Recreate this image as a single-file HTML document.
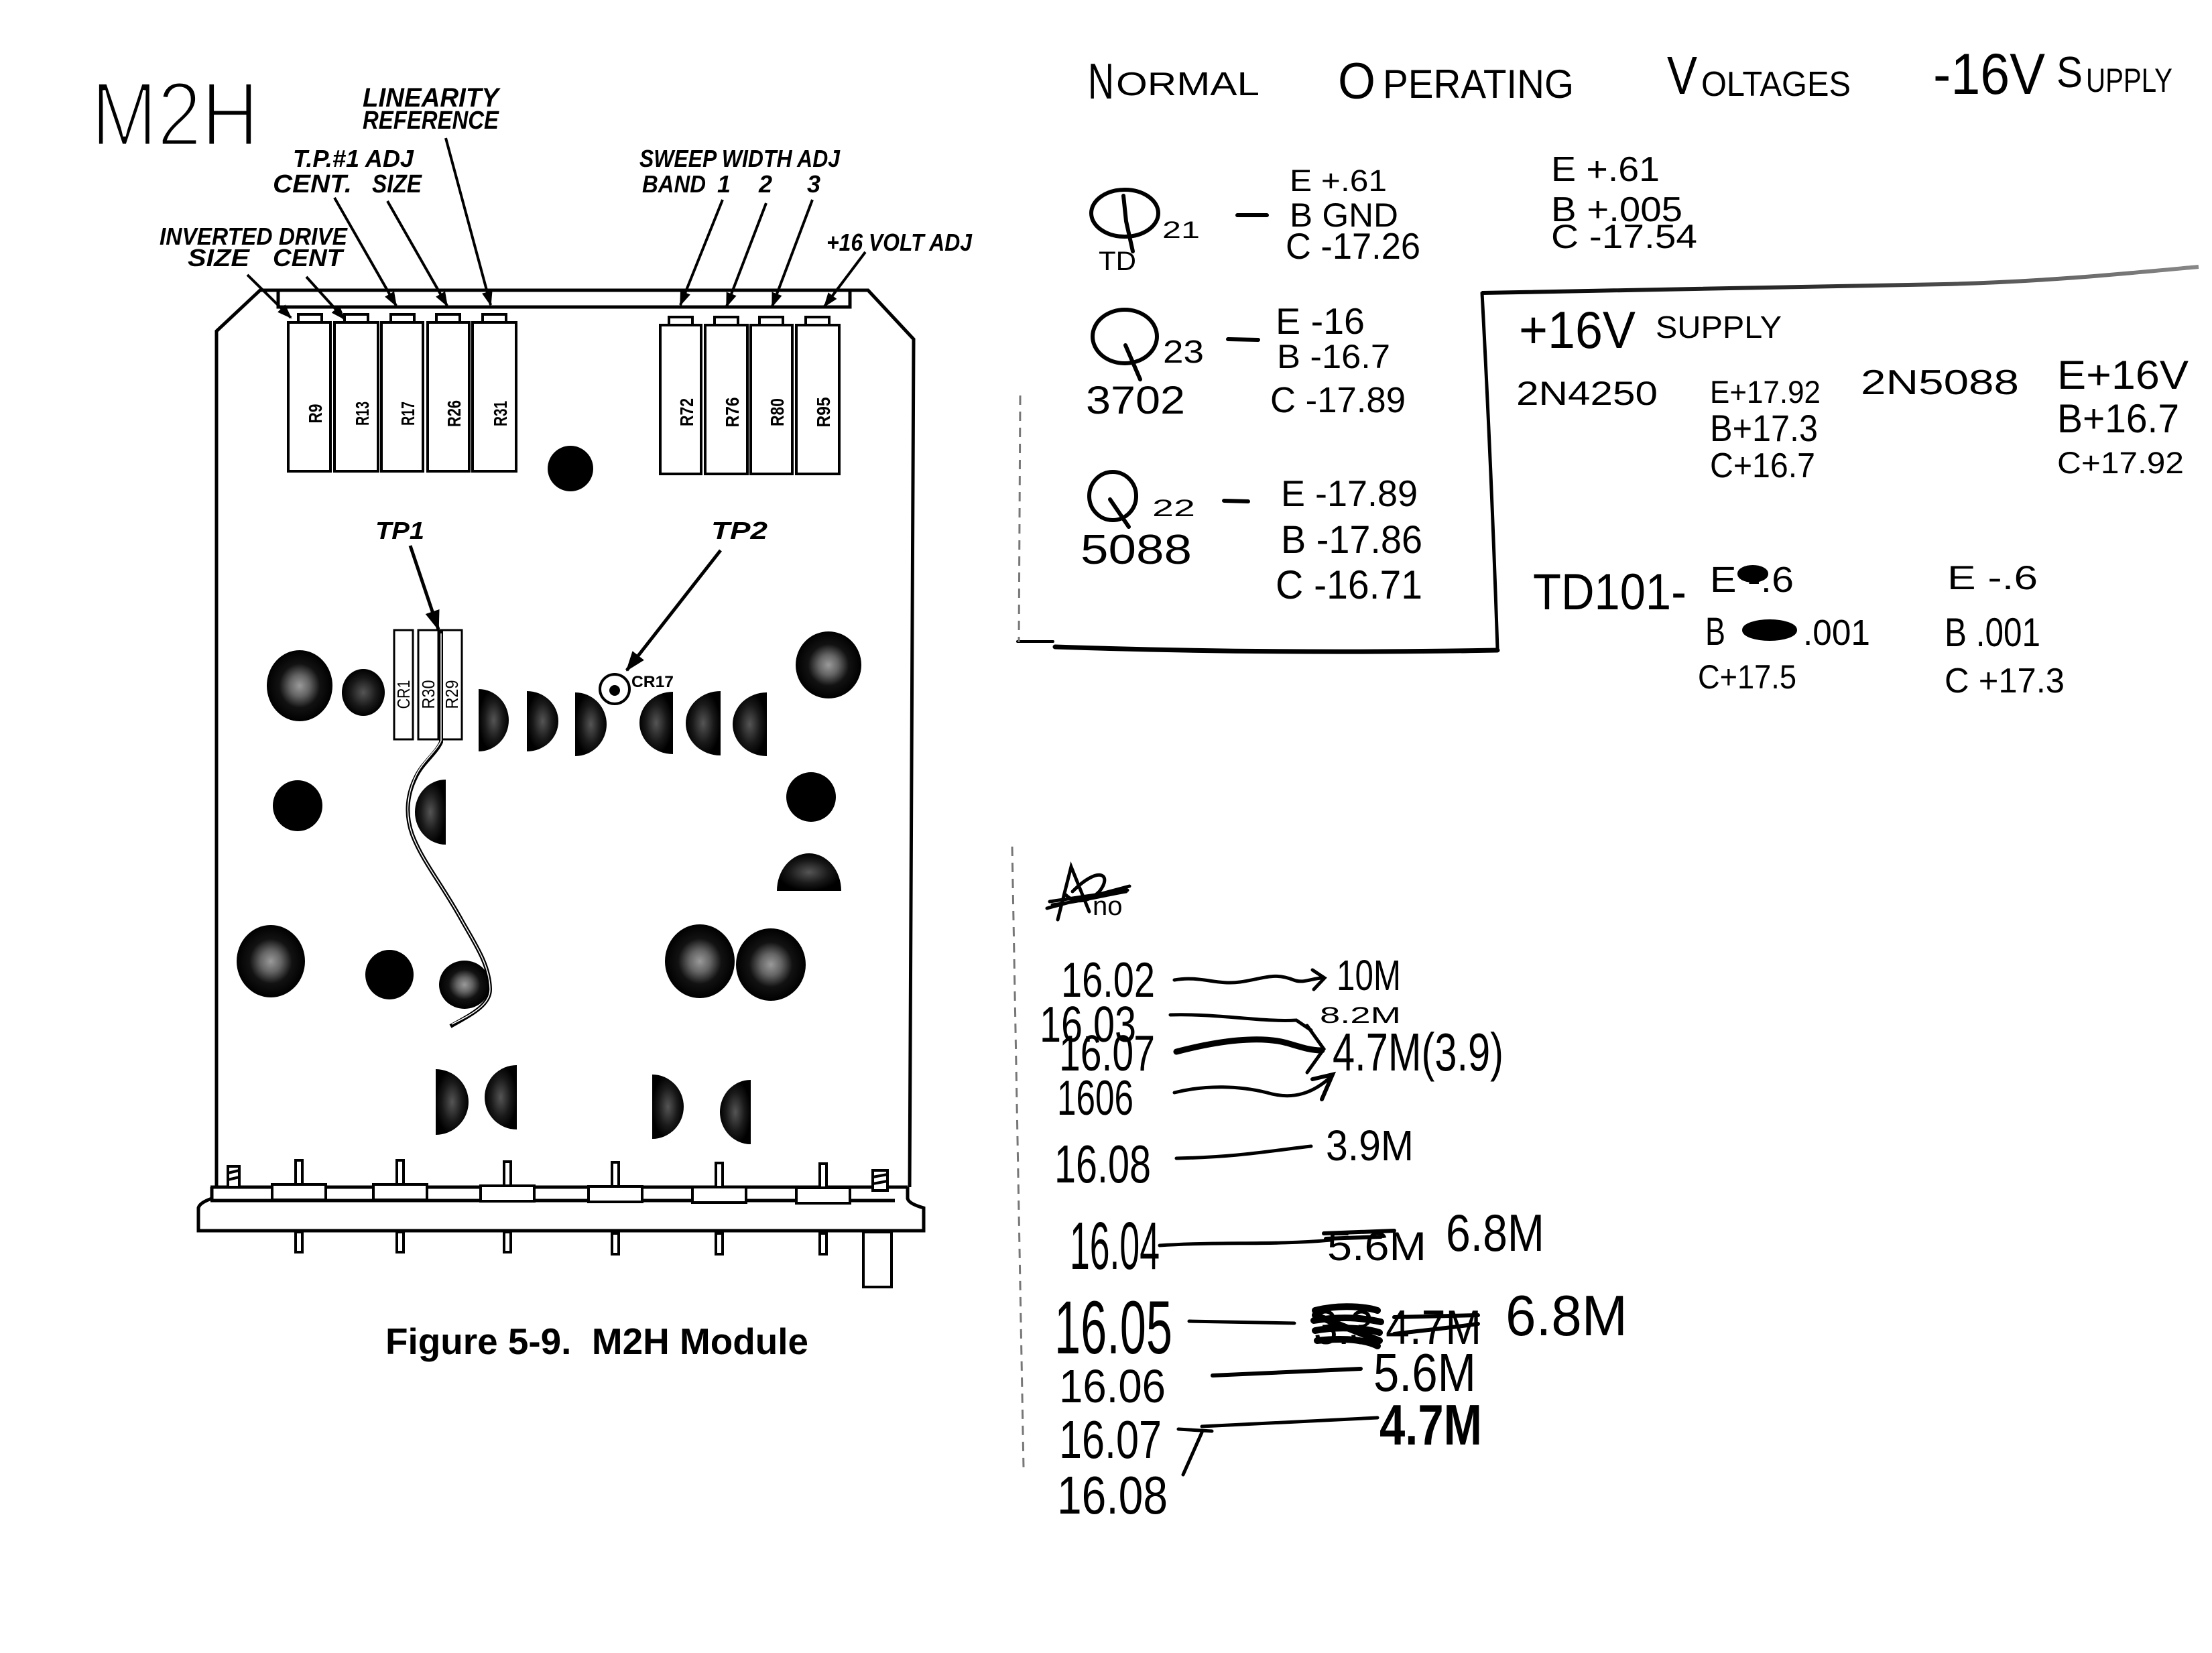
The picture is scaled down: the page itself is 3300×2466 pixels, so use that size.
<!DOCTYPE html>
<html><head><meta charset="utf-8"><style>
html,body{margin:0;padding:0;background:#fff;}
svg{display:block;}
.h{font-family:"Liberation Sans",sans-serif;fill:#000;}
.l{font-family:"Liberation Sans",sans-serif;font-weight:bold;font-style:italic;fill:#000;}
.b{font-family:"Liberation Sans",sans-serif;font-weight:bold;fill:#000;}
</style></head><body>
<svg width="3300" height="2466" viewBox="0 0 3300 2466" xmlns="http://www.w3.org/2000/svg">
<defs>
<radialGradient id="sp" cx="50%" cy="50%" r="50%">
<stop offset="0" stop-color="#9a9a9a"/><stop offset="0.3" stop-color="#656565"/><stop offset="0.62" stop-color="#121212"/><stop offset="1" stop-color="#000"/>
</radialGradient>
<radialGradient id="sp2" cx="50%" cy="50%" r="50%">
<stop offset="0" stop-color="#555"/><stop offset="0.6" stop-color="#1a1a1a"/><stop offset="1" stop-color="#000"/>
</radialGradient>
<marker id="ah" markerUnits="userSpaceOnUse" markerWidth="22" markerHeight="16" refX="20" refY="8" orient="auto">
<path d="M0,0 L22,8 L0,16 z" fill="#000"/>
</marker>
<marker id="ah2" markerUnits="userSpaceOnUse" markerWidth="30" markerHeight="22" refX="28" refY="11" orient="auto">
<path d="M0,0 L30,11 L0,22 z" fill="#000"/>
</marker>
</defs>
<rect width="3300" height="2466" fill="#fff"/>

<!-- M2H handwritten -->
<text class="h" x="136" y="217" font-size="136" textLength="250" lengthAdjust="spacingAndGlyphs" stroke="#fff" stroke-width="5">M2H</text>

<!-- Labels -->
<g class="l">
<text x="541" y="159" font-size="40" textLength="203" lengthAdjust="spacingAndGlyphs">LINEARITY</text>
<text x="541" y="192" font-size="38" textLength="203" lengthAdjust="spacingAndGlyphs">REFERENCE</text>
<text x="437" y="249" font-size="36" textLength="180" lengthAdjust="spacingAndGlyphs">T.P.#1 ADJ</text>
<text x="407" y="287" font-size="38" textLength="118" lengthAdjust="spacingAndGlyphs">CENT.</text>
<text x="555" y="287" font-size="38" textLength="74" lengthAdjust="spacingAndGlyphs">SIZE</text>
<text x="954" y="249" font-size="36" textLength="299" lengthAdjust="spacingAndGlyphs">SWEEP WIDTH ADJ</text>
<text x="958" y="287" font-size="36" textLength="95" lengthAdjust="spacingAndGlyphs">BAND</text>
<text x="1070" y="287" font-size="36">1</text>
<text x="1132" y="287" font-size="36">2</text>
<text x="1204" y="287" font-size="36">3</text>
<text x="1233" y="374" font-size="36" textLength="217" lengthAdjust="spacingAndGlyphs">+16 VOLT ADJ</text>
<text x="238" y="365" font-size="36" textLength="280" lengthAdjust="spacingAndGlyphs">INVERTED DRIVE</text>
<text x="280" y="397" font-size="36" textLength="92" lengthAdjust="spacingAndGlyphs">SIZE</text>
<text x="407" y="397" font-size="36" textLength="104" lengthAdjust="spacingAndGlyphs">CENT</text>
<text x="560" y="804" font-size="36" textLength="73" lengthAdjust="spacingAndGlyphs">TP1</text>
<text x="1061" y="804" font-size="36" textLength="84" lengthAdjust="spacingAndGlyphs">TP2</text>
</g>

<!-- leaders -->
<g stroke="#000" stroke-width="4" fill="none" marker-end="url(#ah)">
<line x1="665" y1="206" x2="732" y2="455"/>
<line x1="499" y1="295" x2="591" y2="456"/>
<line x1="578" y1="300" x2="667" y2="456"/>
<line x1="1078" y1="298" x2="1015" y2="455"/>
<line x1="1143" y1="303" x2="1084" y2="457"/>
<line x1="1212" y1="298" x2="1152" y2="457"/>
<line x1="1291" y1="376" x2="1230" y2="457"/>
<line x1="369" y1="410" x2="434" y2="474"/>
<line x1="457" y1="413" x2="514" y2="476"/>
</g>
<g stroke="#000" stroke-width="5" fill="none" marker-end="url(#ah2)">
<line x1="612" y1="814" x2="654" y2="939"/>
<line x1="1075" y1="821" x2="935" y2="1000"/>
</g>

<!-- board outline -->
<g stroke="#000" stroke-width="5" fill="none">
<path d="M323,1771 L323,494 L388,433 L1295,433 L1363,506 L1357,1771"/>
<path d="M415,434 L415,458 L1268,458 L1268,434"/>
</g>

<!-- resistors -->
<g stroke="#000" stroke-width="4" fill="#fff">
<rect x="445" y="469" width="35" height="13"/>
<rect x="514" y="469" width="35" height="13"/>
<rect x="583" y="469" width="35" height="13"/>
<rect x="651" y="469" width="35" height="13"/>
<rect x="720" y="469" width="35" height="13"/>
<rect x="430" y="481" width="63" height="222"/>
<rect x="499" y="481" width="65" height="222"/>
<rect x="569" y="481" width="62" height="222"/>
<rect x="638" y="481" width="62" height="222"/>
<rect x="705" y="481" width="65" height="222"/>
<rect x="998" y="473" width="35" height="13"/>
<rect x="1066" y="473" width="35" height="13"/>
<rect x="1133" y="473" width="35" height="13"/>
<rect x="1202" y="473" width="35" height="13"/>
<rect x="985" y="485" width="61" height="222"/>
<rect x="1052" y="485" width="63" height="222"/>
<rect x="1120" y="485" width="62" height="222"/>
<rect x="1188" y="485" width="64" height="222"/>
</g>
<g class="b" font-size="28" text-anchor="middle">
<text transform="translate(470,617) rotate(-90)" dy="10" textLength="29" lengthAdjust="spacingAndGlyphs">R9</text>
<text transform="translate(540,617) rotate(-90)" dy="10" textLength="36" lengthAdjust="spacingAndGlyphs">R13</text>
<text transform="translate(608,617) rotate(-90)" dy="10" textLength="36" lengthAdjust="spacingAndGlyphs">R17</text>
<text transform="translate(677,617) rotate(-90)" dy="10" textLength="40" lengthAdjust="spacingAndGlyphs">R26</text>
<text transform="translate(746,617) rotate(-90)" dy="10" textLength="38" lengthAdjust="spacingAndGlyphs">R31</text>
<text transform="translate(1024,615) rotate(-90)" dy="10" textLength="42" lengthAdjust="spacingAndGlyphs">R72</text>
<text transform="translate(1092,615) rotate(-90)" dy="10" textLength="45" lengthAdjust="spacingAndGlyphs">R76</text>
<text transform="translate(1159,615) rotate(-90)" dy="10" textLength="42" lengthAdjust="spacingAndGlyphs">R80</text>
<text transform="translate(1228,615) rotate(-90)" dy="10" textLength="45" lengthAdjust="spacingAndGlyphs">R95</text>
</g>
<circle cx="851" cy="699" r="34" fill="#000"/>

<!-- CR1 / R30 / R29 -->
<g stroke="#000" stroke-width="3" fill="#fff">
<rect x="588" y="940" width="28" height="163"/>
<rect x="624" y="940" width="30" height="163"/>
<rect x="658" y="940" width="31" height="163"/>
</g>
<g class="h" font-size="26" text-anchor="middle">
<text transform="translate(602,1036) rotate(-90)" dy="9" textLength="43" lengthAdjust="spacingAndGlyphs">CR1</text>
<text transform="translate(639,1036) rotate(-90)" dy="9" textLength="43" lengthAdjust="spacingAndGlyphs">R30</text>
<text transform="translate(674,1036) rotate(-90)" dy="9" textLength="43" lengthAdjust="spacingAndGlyphs">R29</text>
</g>

<!-- CR17 -->
<circle cx="917" cy="1028" r="22" fill="#fff" stroke="#000" stroke-width="4"/>
<circle cx="917" cy="1030" r="8" fill="#000"/>
<text class="b" x="942" y="1025" font-size="24" textLength="63" lengthAdjust="spacingAndGlyphs">CR17</text>

<!-- round components -->
<g>
<ellipse cx="447" cy="1023" rx="49" ry="53" fill="url(#sp)"/>
<ellipse cx="542" cy="1033" rx="32" ry="35" fill="url(#sp2)"/>
<ellipse cx="1236" cy="992" rx="49" ry="50" fill="url(#sp)"/>
<ellipse cx="444" cy="1202" rx="37" ry="38" fill="#000"/>
<ellipse cx="1210" cy="1189" rx="37" ry="37" fill="#000"/>
<ellipse cx="404" cy="1434" rx="51" ry="54" fill="url(#sp)"/>
<ellipse cx="581" cy="1454" rx="36" ry="37" fill="#000"/>
<ellipse cx="693" cy="1469" rx="38" ry="36" fill="url(#sp)"/>
<ellipse cx="1044" cy="1434" rx="52" ry="55" fill="url(#sp)"/>
<ellipse cx="1150" cy="1439" rx="52" ry="54" fill="url(#sp)"/>
</g>
<!-- half discs -->
<g fill="url(#sp2)">
<path d="M714,1028 A45,46.5 0 0 1 714,1121 Z"/>
<path d="M786,1031 A47,45 0 0 1 786,1121 Z"/>
<path d="M858,1033 A47,47.5 0 0 1 858,1128 Z"/>
<path d="M1004,1032 A50,46.5 0 0 0 1004,1125 Z"/>
<path d="M1075,1031 A52,48 0 0 0 1075,1127 Z"/>
<path d="M1144,1033 A51,47.5 0 0 0 1144,1128 Z"/>
<path d="M665,1163 A46,48.5 0 0 0 665,1260 Z"/>
<path d="M1159,1329 A48,56 0 0 1 1255,1329 Z"/>
<path d="M650,1595 A49,49 0 0 1 650,1693 Z"/>
<path d="M771,1589 A48,48 0 0 0 771,1685 Z"/>
<path d="M973,1603 A47,48 0 0 1 973,1699 Z"/>
<path d="M1120,1611 A46,48 0 0 0 1120,1707 Z"/>
</g>

<!-- wire -->
<path d="M658,939 L658,1107 C650,1125 630,1138 620,1160 C605,1190 606,1220 615,1245 C630,1285 660,1320 690,1375 C710,1410 730,1440 731,1475 C732,1500 700,1515 672,1531" fill="none" stroke="#000" stroke-width="6"/>
<path d="M658,945 L658,1105 C650,1122 630,1136 620,1158 C605,1190 606,1220 615,1245 C630,1285 660,1320 690,1375 C710,1410 730,1440 731,1475 C732,1500 700,1515 674,1528" fill="none" stroke="#fff" stroke-width="1.5"/>

<!-- bottom connector -->
<g stroke="#000" stroke-width="5" fill="none">
<line x1="314" y1="1771" x2="1354" y2="1771"/>
<line x1="314" y1="1791" x2="1335" y2="1791"/>
<path d="M316,1771 L316,1788 Q298,1794 296,1802 L296,1836 L1378,1836 L1378,1802 Q1356,1796 1354,1788 L1354,1771"/>
</g>
<g stroke="#000" stroke-width="4" fill="#fff">
<rect x="441" y="1731" width="10" height="38"/><rect x="406" y="1767" width="80" height="23"/>
<rect x="592" y="1731" width="10" height="38"/><rect x="557" y="1767" width="80" height="23"/>
<rect x="752" y="1733" width="10" height="38"/><rect x="717" y="1769" width="80" height="23"/>
<rect x="913" y="1734" width="10" height="38"/><rect x="878" y="1770" width="80" height="23"/>
<rect x="1068" y="1735" width="10" height="38"/><rect x="1033" y="1771" width="80" height="23"/>
<rect x="1223" y="1736" width="10" height="38"/><rect x="1188" y="1772" width="80" height="23"/>
<rect x="441" y="1838" width="10" height="30"/>
<rect x="592" y="1838" width="10" height="30"/>
<rect x="752" y="1838" width="10" height="30"/>
<rect x="913" y="1840" width="10" height="31"/>
<rect x="1068" y="1840" width="10" height="31"/>
<rect x="1223" y="1840" width="10" height="31"/>
<rect x="1288" y="1838" width="42" height="82"/>
<rect x="340" y="1740" width="17" height="31"/>
<rect x="1302" y="1746" width="22" height="30"/>
</g>
<g stroke="#000" stroke-width="4">
<line x1="340" y1="1750" x2="357" y2="1746"/><line x1="340" y1="1760" x2="357" y2="1756"/>
<line x1="1302" y1="1756" x2="1324" y2="1752"/><line x1="1302" y1="1766" x2="1324" y2="1762"/>
</g>

<text class="b" x="575" y="2020" font-size="55" textLength="631" lengthAdjust="spacingAndGlyphs" xml:space="preserve">Figure 5-9.  M2H Module</text>

<!-- ===== RIGHT SIDE ===== -->
<g class="h">
<text x="1623" y="147" font-size="75" textLength="39" lengthAdjust="spacingAndGlyphs">N</text>
<text x="1665" y="142" font-size="49" textLength="214" lengthAdjust="spacingAndGlyphs">ORMAL</text>
<text x="1996" y="147" font-size="76" textLength="56" lengthAdjust="spacingAndGlyphs">O</text>
<text x="2063" y="146" font-size="60" textLength="285" lengthAdjust="spacingAndGlyphs">PERATING</text>
<text x="2487" y="140" font-size="80" textLength="45" lengthAdjust="spacingAndGlyphs">V</text>
<text x="2538" y="143" font-size="52" textLength="223" lengthAdjust="spacingAndGlyphs">OLTAGES</text>
<text x="2884" y="140" font-size="86" textLength="167" lengthAdjust="spacingAndGlyphs">-16V</text>
<text x="3068" y="130" font-size="65" textLength="39" lengthAdjust="spacingAndGlyphs">S</text>
<text x="3112" y="137" font-size="50" textLength="129" lengthAdjust="spacingAndGlyphs">UPPLY</text>

<!-- Q21 -->
<text x="1734" y="355" font-size="35" textLength="56" lengthAdjust="spacingAndGlyphs">21</text>
<text x="1639" y="403" font-size="40" textLength="56" lengthAdjust="spacingAndGlyphs">TD</text>
<text x="1924" y="285" font-size="45" textLength="145" lengthAdjust="spacingAndGlyphs">E +.61</text>
<text x="1924" y="338" font-size="50" textLength="162" lengthAdjust="spacingAndGlyphs">B GND</text>
<text x="1918" y="386" font-size="55" textLength="201" lengthAdjust="spacingAndGlyphs">C -17.26</text>
<text x="2314" y="270" font-size="52" textLength="162" lengthAdjust="spacingAndGlyphs">E +.61</text>
<text x="2314" y="330" font-size="52" textLength="196" lengthAdjust="spacingAndGlyphs">B +.005</text>
<text x="2314" y="370" font-size="50" textLength="218" lengthAdjust="spacingAndGlyphs">C -17.54</text>

<!-- Q23 -->
<text x="1735" y="541" font-size="48" textLength="61" lengthAdjust="spacingAndGlyphs">23</text>
<text x="1620" y="617" font-size="58" textLength="148" lengthAdjust="spacingAndGlyphs">3702</text>
<text x="1903" y="498" font-size="55" textLength="133" lengthAdjust="spacingAndGlyphs">E -16</text>
<text x="1905" y="549" font-size="50" textLength="169" lengthAdjust="spacingAndGlyphs">B -16.7</text>
<text x="1895" y="615" font-size="54" textLength="202" lengthAdjust="spacingAndGlyphs">C -17.89</text>

<!-- Q22 -->
<text x="1719" y="770" font-size="35" textLength="64" lengthAdjust="spacingAndGlyphs">22</text>
<text x="1612" y="841" font-size="62" textLength="166" lengthAdjust="spacingAndGlyphs">5088</text>
<text x="1911" y="755" font-size="55" textLength="204" lengthAdjust="spacingAndGlyphs">E -17.89</text>
<text x="1911" y="825" font-size="58" textLength="211" lengthAdjust="spacingAndGlyphs">B -17.86</text>
<text x="1903" y="893" font-size="60" textLength="219" lengthAdjust="spacingAndGlyphs">C -16.71</text>

<!-- +16V box -->
<text x="2266" y="519" font-size="78" textLength="174" lengthAdjust="spacingAndGlyphs">+16V</text>
<text x="2470" y="504" font-size="46" textLength="188" lengthAdjust="spacingAndGlyphs">SUPPLY</text>
<text x="2262" y="604" font-size="50" textLength="211" lengthAdjust="spacingAndGlyphs">2N4250</text>
<text x="2551" y="601" font-size="47" textLength="165" lengthAdjust="spacingAndGlyphs">E+17.92</text>
<text x="2551" y="658" font-size="56" textLength="161" lengthAdjust="spacingAndGlyphs">B+17.3</text>
<text x="2551" y="712" font-size="52" textLength="157" lengthAdjust="spacingAndGlyphs">C+16.7</text>
<text x="2776" y="588" font-size="52" textLength="236" lengthAdjust="spacingAndGlyphs">2N5088</text>
<text x="3069" y="580" font-size="60" textLength="196" lengthAdjust="spacingAndGlyphs">E+16V</text>
<text x="3069" y="645" font-size="60" textLength="182" lengthAdjust="spacingAndGlyphs">B+16.7</text>
<text x="3069" y="706" font-size="45" textLength="189" lengthAdjust="spacingAndGlyphs">C+17.92</text>
<text x="2287" y="909" font-size="76" textLength="229" lengthAdjust="spacingAndGlyphs">TD101-</text>
<text x="2551" y="883" font-size="54" textLength="125" lengthAdjust="spacingAndGlyphs">E -.6</text>
<text x="2544" y="962" font-size="58" textLength="30" lengthAdjust="spacingAndGlyphs">B</text>
<text x="2690" y="962" font-size="54" textLength="100" lengthAdjust="spacingAndGlyphs">.001</text>
<text x="2533" y="1027" font-size="50" textLength="147" lengthAdjust="spacingAndGlyphs">C+17.5</text>
<text x="2905" y="879" font-size="50" textLength="135" lengthAdjust="spacingAndGlyphs">E -.6</text>
<text x="2901" y="964" font-size="60" textLength="143" lengthAdjust="spacingAndGlyphs">B .001</text>
<text x="2901" y="1033" font-size="52" textLength="179" lengthAdjust="spacingAndGlyphs">C +17.3</text>

<!-- bottom list -->
<text x="1583" y="1487" font-size="73" textLength="140" lengthAdjust="spacingAndGlyphs">16.02</text>
<text x="1994" y="1477" font-size="64" textLength="96" lengthAdjust="spacingAndGlyphs">10M</text>
<text x="1551" y="1554" font-size="75" textLength="144" lengthAdjust="spacingAndGlyphs">16.03</text>
<text x="1969" y="1526" font-size="34" textLength="121" lengthAdjust="spacingAndGlyphs">8.2M</text>
<text x="1580" y="1597" font-size="75" textLength="143" lengthAdjust="spacingAndGlyphs">16.07</text>
<text x="1988" y="1597" font-size="80" textLength="255" lengthAdjust="spacingAndGlyphs">4.7M(3.9)</text>
<text x="1577" y="1663" font-size="73" textLength="114" lengthAdjust="spacingAndGlyphs">1606</text>
<text x="1573" y="1764" font-size="80" textLength="144" lengthAdjust="spacingAndGlyphs">16.08</text>
<text x="1978" y="1731" font-size="64" textLength="131" lengthAdjust="spacingAndGlyphs">3.9M</text>
<text x="1596" y="1893" font-size="100" textLength="134" lengthAdjust="spacingAndGlyphs">16.04</text>
<text x="1980" y="1880" font-size="60" textLength="148" lengthAdjust="spacingAndGlyphs">5.6M</text>
<text x="2157" y="1866" font-size="78" textLength="147" lengthAdjust="spacingAndGlyphs">6.8M</text>
<text x="1573" y="2019" font-size="112" textLength="176" lengthAdjust="spacingAndGlyphs">16.05</text>
<text x="1960" y="2005" font-size="72" textLength="250" lengthAdjust="spacingAndGlyphs">3.3 4.7M</text>
<text x="2246" y="1992" font-size="85" textLength="182" lengthAdjust="spacingAndGlyphs">6.8M</text>
<text x="1580" y="2092" font-size="70" textLength="159" lengthAdjust="spacingAndGlyphs">16.06</text>
<text x="2049" y="2075" font-size="80" textLength="153" lengthAdjust="spacingAndGlyphs">5.6M</text>
<text x="1580" y="2175" font-size="80" textLength="153" lengthAdjust="spacingAndGlyphs">16.07</text>
<text x="2058" y="2155" font-size="85" font-weight="bold" textLength="153" lengthAdjust="spacingAndGlyphs">4.7M</text>
<text x="1577" y="2258" font-size="80" textLength="165" lengthAdjust="spacingAndGlyphs">16.08</text>
</g>

<!-- handwritten strokes -->
<g stroke="#000" stroke-width="6" fill="none" stroke-linecap="round">
<ellipse cx="1678" cy="318" rx="50" ry="35"/>
<path d="M1676,292 L1680,330 L1690,375"/>
<line x1="1846" y1="321" x2="1890" y2="321"/>
<ellipse cx="1678" cy="502" rx="48" ry="40"/>
<path d="M1679,515 L1701,566"/>
<line x1="1832" y1="506" x2="1877" y2="507"/>
<ellipse cx="1660" cy="740" rx="35" ry="36"/>
<path d="M1656,745 L1684,786"/>
<line x1="1826" y1="747" x2="1862" y2="748"/>
<path d="M1518,957 L1571,957" stroke-width="4"/>
<path d="M1574,965 Q1900,976 2234,970" stroke-width="7"/>
<path d="M2211,437 Q2225,700 2234,968" stroke-width="5"/>
<path d="M1752,1462 C1790,1455 1815,1470 1850,1465 C1885,1460 1900,1450 1930,1462 C1945,1468 1960,1458 1975,1459" stroke-width="5"/>
<path d="M1958,1447 L1976,1459 L1960,1476" stroke-width="5"/>
<path d="M1746,1514 C1820,1512 1880,1525 1934,1522 L1956,1537" stroke-width="5"/>
<path d="M1755,1569 C1820,1552 1880,1545 1920,1556 C1940,1562 1955,1567 1972,1567" stroke-width="9"/>
<path d="M1950,1530 L1975,1565 L1950,1600" stroke-width="5"/>
<path d="M1752,1630 C1800,1618 1850,1620 1890,1630 C1930,1642 1960,1630 1986,1606" stroke-width="5"/>
<path d="M1958,1610 L1988,1603 L1972,1640" stroke-width="6"/>
<path d="M1755,1728 C1850,1726 1900,1716 1956,1710" stroke-width="5"/>
<path d="M1730,1858 C1820,1852 1900,1858 1985,1850" stroke-width="5"/>
<path d="M1774,1971 L1931,1974" stroke-width="5"/>
<path d="M1809,2052 L2030,2042" stroke-width="6"/>
<path d="M1793,2128 L2055,2115" stroke-width="5"/>
<path d="M1758,2132 L1808,2135 M1793,2137 L1765,2200" stroke-width="5"/>
<path d="M1578,1372 L1598,1293 L1625,1360 M1600,1330 C1640,1290 1660,1305 1640,1330 C1620,1350 1600,1345 1590,1335 M1562,1355 L1685,1322 M1566,1345 L1682,1328 M1570,1350 C1610,1345 1650,1335 1680,1330" stroke-width="5"/>
<text class="h" x="1630" y="1365" font-size="40" stroke="none" fill="#000">no</text>
<path d="M1975,1840 L2080,1836 M1978,1848 L2060,1845" stroke-width="6"/>
<path d="M1962,1955 C2000,1945 2040,1950 2055,1955 M1960,1970 C2010,1962 2040,1968 2060,1972 M1962,1985 C2000,1978 2040,1982 2058,1988 M1965,2000 C2010,1995 2040,2000 2055,2008 M1962,1962 L2058,2000" stroke-width="10"/>
<path d="M2080,1965 L2205,1962 M2080,1990 C2120,1985 2170,1980 2205,1975" stroke-width="6"/>
<ellipse cx="2615" cy="856" rx="20" ry="10" fill="#000"/>
<ellipse cx="2640" cy="940" rx="38" ry="13" fill="#000"/>
</g>

<defs><linearGradient id="tl" x1="0" x2="1" y1="0" y2="0"><stop offset="0" stop-color="#000"/><stop offset="0.5" stop-color="#333"/><stop offset="1" stop-color="#888"/></linearGradient></defs>
<path d="M2211,437 C2500,432 2750,428 2900,424 C3050,420 3150,410 3280,398" fill="none" stroke="url(#tl)" stroke-width="6"/>
<line x1="2180" y1="972" x2="2234" y2="970" stroke="#000" stroke-width="5"/>

<g stroke="#777" stroke-width="3" stroke-dasharray="14,10" fill="none">
<line x1="1522" y1="590" x2="1520" y2="958"/>
<line x1="1510" y1="1263" x2="1527" y2="2190"/>
</g>
</svg>
</body></html>
